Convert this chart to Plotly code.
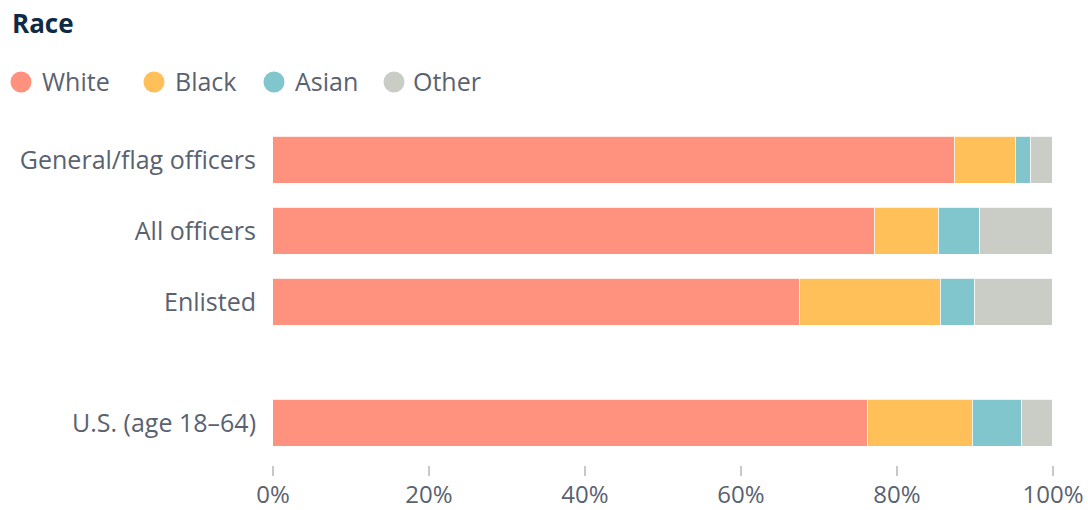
import plotly.graph_objects as go

categories = ["General/flag officers", "All officers", "Enlisted", "U.S. (age 18–64)"]
series_names = ["White", "Black", "Asian", "Other"]
white = [87.4, 77.2, 67.6, 76.3]
black = [7.9, 8.2, 18.1, 13.4]
asian = [1.9, 5.2, 4.3, 6.3]
other = [2.8, 9.4, 10.0, 4.0]
tick_vals_x = [0, 20, 40, 60, 80, 100]
tick_text_x = ["0%", "20%", "40%", "60%", "80%", "100%"]

colors = ["#FF917F", "#FFC05A", "#82C6CD", "#C9CDC6"]
y_pos = [0, 1, 2, 3.7]

FONT = "Open Sans"
TEXT_COL = "#5a6270"
FS = 25

fig = go.Figure()
for name, vals, col in zip(series_names, [white, black, asian, other], colors):
    fig.add_trace(go.Bar(
        y=y_pos, x=vals, name=name, orientation="h",
        marker=dict(color=col, line=dict(color="rgba(255,255,255,0.8)", width=1.5)),
        width=0.66, showlegend=False,
    ))

W, H = 1088, 510
L, R, T, B = 273, 35, 120, 45
pw, ph = W - L - R, H - T - B

def px_x(px):
    return (px - L) / pw

def px_y(py):
    return (H - B - py) / ph

annotations = [dict(text="<b>Race</b>", x=px_x(10), y=px_y(23), xref="paper", yref="paper",
                    xanchor="left", yanchor="middle", showarrow=False,
                    font=dict(family=FONT, size=26, color="#0f2a47"))]
shapes = []
leg_circle_x = [21, 154, 274, 394]
leg_text_x = [40, 173, 293, 411]
for name, col, cx, tx in zip(series_names, colors, leg_circle_x, leg_text_x):
    shapes.append(dict(type="circle", xref="paper", yref="paper", xsizemode="pixel", ysizemode="pixel",
                       xanchor=px_x(cx), yanchor=px_y(82), x0=-10.5, x1=10.5, y0=-10.5, y1=10.5,
                       fillcolor=col, line=dict(width=0)))
    annotations.append(dict(text=name, x=px_x(tx), y=px_y(81), xref="paper", yref="paper",
                            xanchor="left", yanchor="middle", showarrow=False,
                            font=dict(family=FONT, size=FS, color=TEXT_COL)))

fig.update_layout(
    barmode="stack", bargap=0,
    width=W, height=H,
    margin=dict(l=L, r=R, t=T, b=B, autoexpand=False),
    plot_bgcolor="white", paper_bgcolor="white",
    font=dict(family=FONT, size=FS, color=TEXT_COL),
    xaxis=dict(range=[0, 100], tickvals=tick_vals_x, ticktext=tick_text_x,
               showgrid=False, zeroline=False, showline=False, automargin=False,
               ticks="outside", ticklen=10, tickwidth=1.5, tickcolor="#c8c8c8",
               ticklabelstandoff=-2,
               tickfont=dict(family=FONT, size=24, color=TEXT_COL)),
    yaxis=dict(range=[4.29, -0.57], tickvals=y_pos, ticktext=categories,
               showgrid=False, zeroline=False, showline=False, ticks="", automargin=False,
               ticklabelstandoff=16,
               tickfont=dict(family=FONT, size=FS, color=TEXT_COL)),
    annotations=annotations, shapes=shapes,
)

fig.write_html("out.html", config={"displayModeBar": False},
               post_script="document.body.style.margin='0px';document.body.style.overflow='hidden';")
